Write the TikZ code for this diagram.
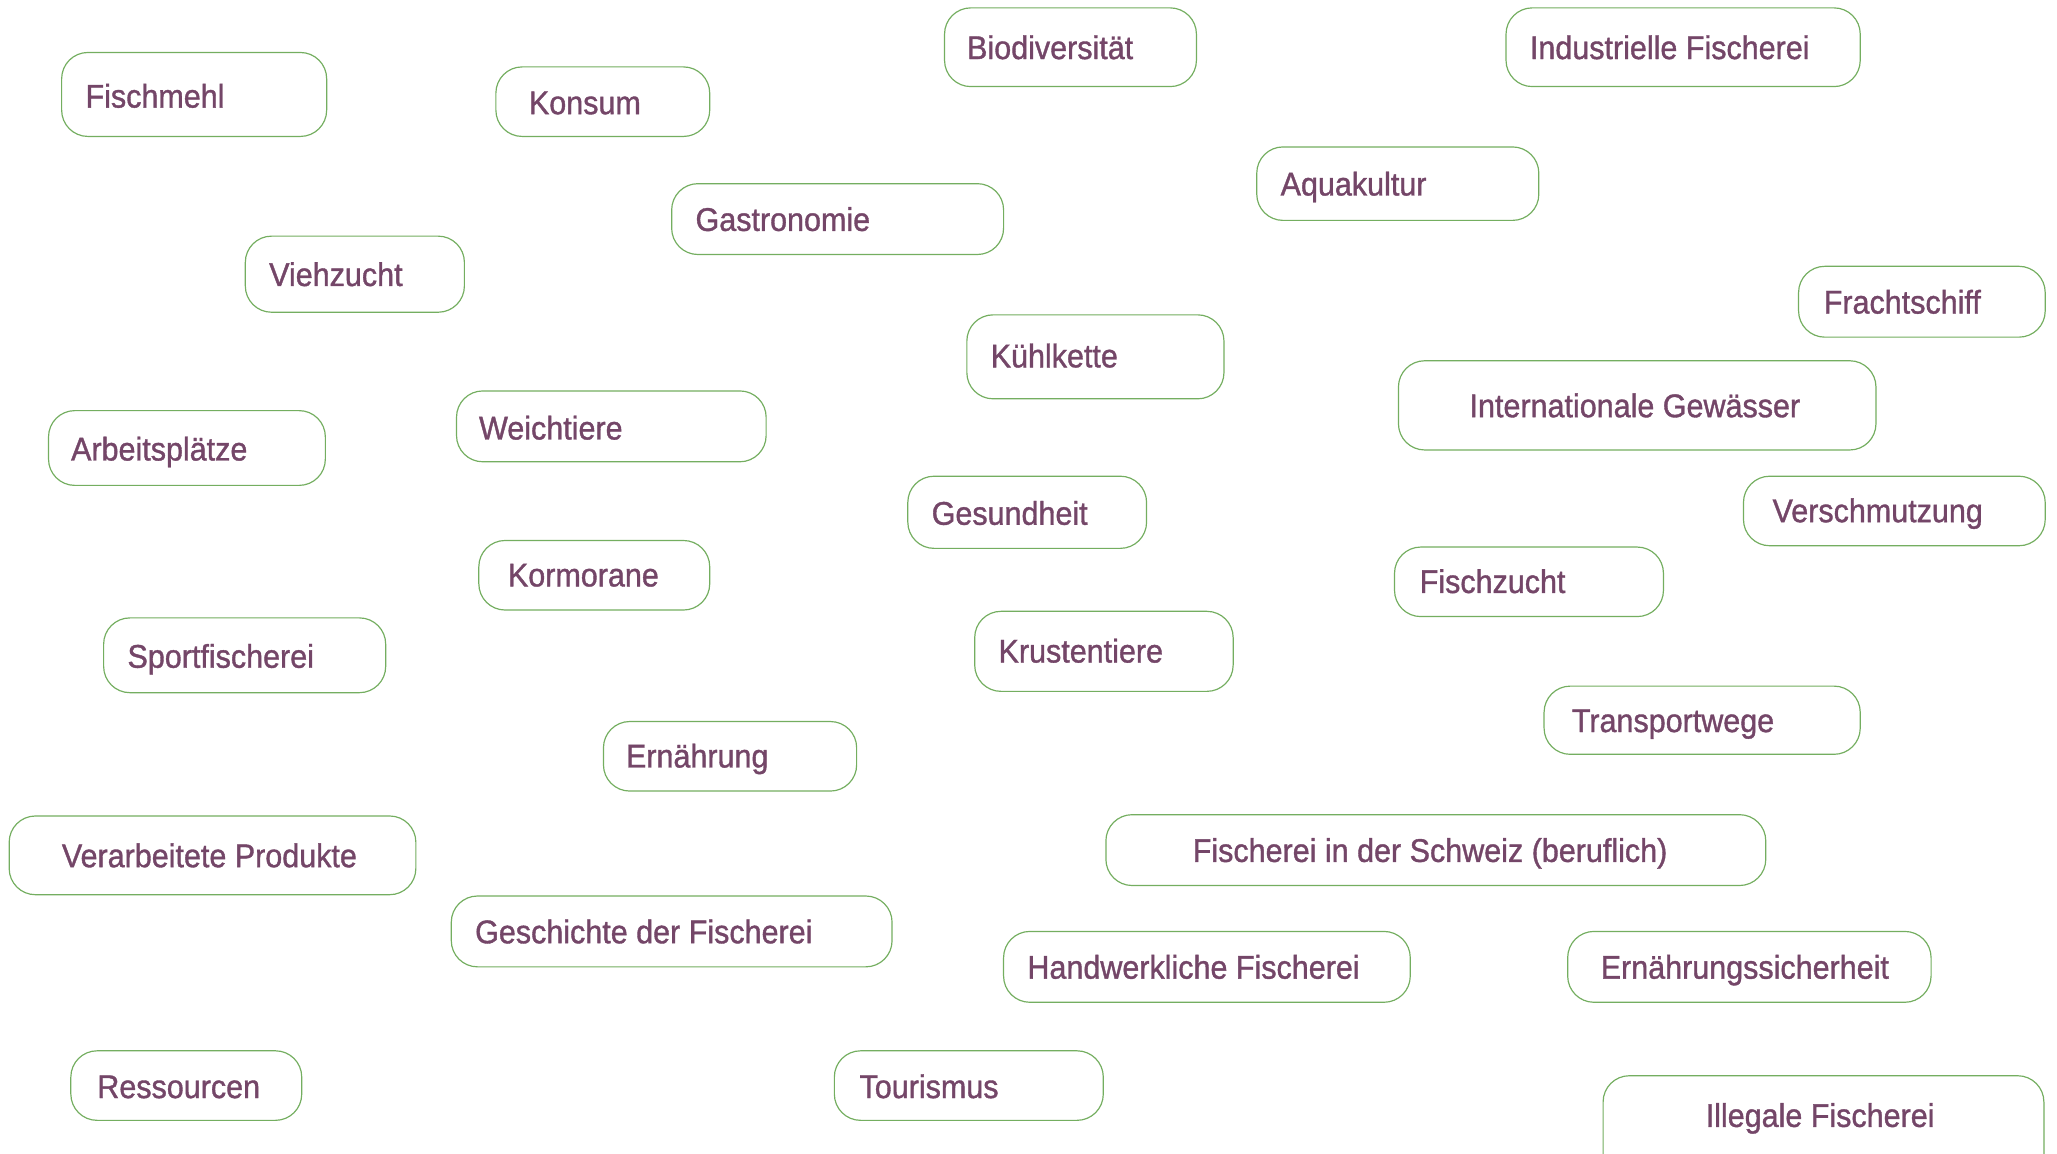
\documentclass[tikz,border=0pt]{standalone}
\usepackage{fontspec}
\setmainfont{Liberation Sans}[FakeStretch=0.93,FakeBold=1.1]
\definecolor{plum}{HTML}{744668}
\definecolor{leaf}{HTML}{74AE60}
\tikzset{
  box/.style={draw=leaf, line width=0.9bp, rounded corners=20bp, inner sep=0pt, fill=white},
  lbl/.style={text=plum, inner sep=0pt, font=\fontsize{25bp}{30bp}\selectfont, anchor=base west}
}
\newcommand{\tbox}[8]{%
  \node[box, minimum width={#4bp-#2bp}, minimum height={#5bp-#3bp}] (#1) at ({(#2+#4)/2},{(#3+#5)/2}) {};
  \node[lbl] (#1-t) at (#6,#7) {#8};
}
\begin{document}
\begin{tikzpicture}[x=1bp,y=-1bp]
\useasboundingbox (0,0) rectangle (1568,879);
\clip (0,0) rectangle (1568,879);
\tbox{fischmehl}{47}{40}{249}{104}{65}{82}{Fischmehl}
\tbox{konsum}{378}{51}{541}{104}{403}{87}{Konsum}
\tbox{bio}{720}{6}{912}{66}{737}{45}{Biodiversität}
\tbox{indu}{1148}{6}{1418}{66}{1166}{45}{Industrielle Fischerei}
\tbox{aqua}{958}{112}{1173}{168}{976}{149}{Aquakultur}
\tbox{gastro}{512}{140}{765}{194}{530}{176}{Gastronomie}
\tbox{vieh}{187}{180}{354}{238}{205}{218}{Viehzucht}
\tbox{fracht}{1371}{203}{1559}{257}{1390}{239}{Frachtschiff}
\tbox{kuehl}{737}{240}{933}{304}{755}{280}{Kühlkette}
\tbox{intl}{1066}{275}{1430}{343}{1120}{318}{Internationale Gewässer}
\tbox{arbeit}{37}{313}{248}{370}{54}{351}{Arbeitsplätze}
\tbox{weich}{348}{298}{584}{352}{365}{335}{Weichtiere}
\tbox{gesund}{692}{363}{874}{418}{710}{400}{Gesundheit}
\tbox{versch}{1329}{363}{1559}{416}{1351}{398}{Verschmutzung}
\tbox{kormo}{365}{412}{541}{465}{387}{447}{Kormorane}
\tbox{fzucht}{1063}{417}{1268}{470}{1082}{452}{Fischzucht}
\tbox{sport}{79}{471}{294}{528}{97}{509}{Sportfischerei}
\tbox{krust}{743}{466}{940}{527}{761}{505}{Krustentiere}
\tbox{trans}{1177}{523}{1418}{575}{1198}{558}{Transportwege}
\tbox{ernae}{460}{550}{653}{603}{477}{585}{Ernährung}
\tbox{verarb}{7}{622}{317}{682}{47}{661}{Verarbeitete Produkte}
\tbox{schweiz}{843}{621}{1346}{675}{909}{657}{Fischerei in der Schweiz (beruflich)}
\tbox{gesch}{344}{683}{680}{737}{362}{719}{Geschichte der Fischerei}
\tbox{handw}{765}{710}{1075}{764}{783}{746}{Handwerkliche Fischerei}
\tbox{sicher}{1195}{710}{1472}{764}{1220}{746}{Ernährungssicherheit}
\tbox{ress}{54}{801}{230}{854}{74}{837}{Ressourcen}
\tbox{tour}{636}{801}{841}{854}{655}{837}{Tourismus}
\tbox{illegal}{1222}{820}{1558}{900}{1300}{859}{Illegale Fischerei}
\end{tikzpicture}
\end{document}
